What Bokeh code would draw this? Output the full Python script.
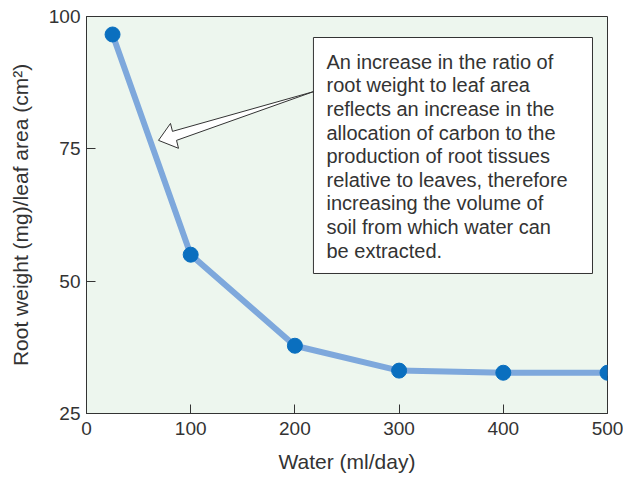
from bokeh.plotting import figure
from bokeh.models import BoxAnnotation, PolyAnnotation, Label, FixedTicker
from bokeh.embed import file_html
from bokeh.resources import INLINE

# ---- data ----
water = [25, 100, 200, 300, 400, 500]
ratio = [96.6, 55.0, 37.8, 33.1, 32.7, 32.7]
x_ticks = [0, 100, 200, 300, 400, 500]
y_ticks = [25, 50, 75, 100]
note_lines = [
    "An increase in the ratio of",
    "root weight to leaf area",
    "reflects an increase in the",
    "allocation of carbon to the",
    "production of root tissues",
    "relative to leaves, therefore",
    "increasing the volume of",
    "soil from which water can",
    "be extracted.",
]

FONT = "Liberation Sans"
TXT = "#333333"

p = figure(width=623, height=478, x_range=(0, 500), y_range=(25, 100),
           output_backend="svg", toolbar_location=None,
           min_border_left=86, min_border_right=16, min_border_top=16, min_border_bottom=65)
p.background_fill_color = "#edf6ee"
p.border_fill_color = "white"
p.outline_line_color = "#333333"
p.outline_line_width = 1
p.grid.visible = False

for ax in (p.xaxis[0], p.yaxis[0]):
    ax.axis_line_color = "#333333"
    ax.major_tick_line_color = "#333333"
    ax.major_tick_in = 9
    ax.major_tick_out = 0
    ax.minor_tick_line_color = None
    ax.major_label_text_font = FONT
    ax.major_label_text_font_size = "19px"
    ax.major_label_text_color = TXT
    ax.axis_label_text_font = FONT
    ax.axis_label_text_font_size = "21px"
    ax.axis_label_text_font_style = "normal"
    ax.axis_label_text_color = TXT

p.xaxis.ticker = FixedTicker(ticks=x_ticks)
p.yaxis.ticker = FixedTicker(ticks=y_ticks)
p.xaxis.axis_label = "Water (ml/day)"
p.yaxis.axis_label = "Root weight (mg)/leaf area (cm\u00b2)"
p.xaxis.major_label_standoff = 8
p.yaxis.major_label_standoff = 6
p.xaxis.axis_label_standoff = 12
p.yaxis.axis_label_standoff = 14

p.line(water, ratio, line_width=6, line_color="#7ea8dc")
p.scatter(water, ratio, size=15, fill_color="#0a6fbf", line_color="#0a6fbf")

# annotation box
box = BoxAnnotation(left=217.8, right=485.6, top=96.03, bottom=51.45,
                    fill_color="white", fill_alpha=1, line_color="#333333",
                    line_width=1, line_alpha=1)
p.add_layout(box)

# hollow arrow
arrow = PolyAnnotation(xs=[69.1, 80.6, 82.5, 217.8, 86.4, 88.3],
                       ys=[76.6, 79.8, 78.3, 85.8, 76.6, 75.1],
                       fill_color="white", fill_alpha=1, line_color="#333333",
                       line_width=1, line_alpha=1)
p.add_layout(arrow)

for i, t in enumerate(note_lines):
    p.add_layout(Label(x=230.3, y=96.03, y_offset=-(24.3 + i * 23.6), text=t,
                       text_font=FONT, text_font_size="20px", text_color=TXT,
                       text_baseline="alphabetic", text_align="left"))

open("out.html", "w").write(file_html(p, INLINE))
